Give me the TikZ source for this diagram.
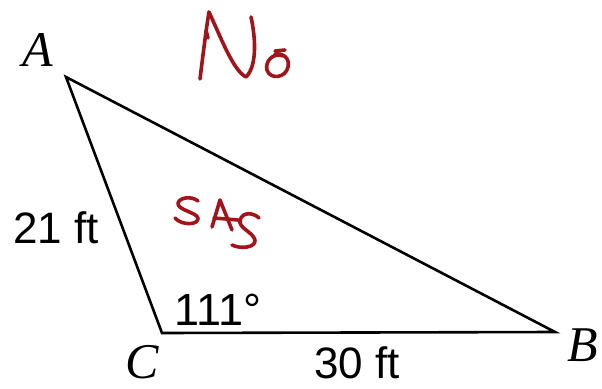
\documentclass[tikz,border=0pt]{standalone}
\usepackage{fontspec}
\setmainfont{Liberation Serif}
\setsansfont{Liberation Sans}
\begin{document}
\begin{tikzpicture}[x=1pt,y=-1pt,
  edge/.style={line width=2.6pt,line join=miter},
  vlabel/.style={font=\fontsize{50}{50}\selectfont\itshape,anchor=base,inner sep=0pt},
  mlabel/.style={font=\fontsize{44}{44}\selectfont\sffamily,anchor=base,inner sep=0pt},
  ink/.style={draw=inkred,line width=3.6pt,line cap=round,line join=round}]
\definecolor{inkred}{HTML}{A3141A}
\useasboundingbox (0,0) rectangle (602,388);
\coordinate (A) at (66,77);
\coordinate (C) at (162,333);
\coordinate (B) at (555,332);
\draw[edge] (A) -- (C) -- (B) -- cycle;
\node[vlabel] (lA) at (38,66) {A};
\node[vlabel] (lB) at (583,361) {B};
\node[vlabel] (lC) at (142,378) {C};
\node[mlabel,font=\fontsize{45}{45}\selectfont\sffamily] (ang) at (218,325) {111°};
\node[mlabel] (s1) at (56,243) {21 ft};
\node[mlabel] (s2) at (357,378) {30 ft};
% handwritten "No"
\draw[ink] (200,79) .. controls (203,55) and (206,30) .. (209,12)
  .. controls (222,40) and (233,70) .. (246,77)
  .. controls (258,65) and (255,35) .. (251,17);
\draw[ink] (206,30) -- (208,38);
\draw[ink] (284,56) .. controls (272,52) and (265,62) .. (267,70)
  .. controls (270,80) and (286,78) .. (288,67)
  .. controls (290,58) and (283,53) .. (275,54);
\draw[ink] (275,51) -- (285,50);
% handwritten "SAS"
\draw[ink] (198,201) .. controls (192,196) and (180,197) .. (178,203)
  .. controls (177,210) and (196,212) .. (198,218)
  .. controls (199,225) and (182,226) .. (175,218);
\draw[ink] (212,227) -- (220,200) -- (232,230);
\draw[ink] (214,218) -- (238,220);
\draw[ink] (259,218) .. controls (254,213) and (243,211) .. (240,220)
  .. controls (238,228) and (253,232) .. (255,240)
  .. controls (256,248) and (240,249) .. (232,245);
\end{tikzpicture}
\end{document}
